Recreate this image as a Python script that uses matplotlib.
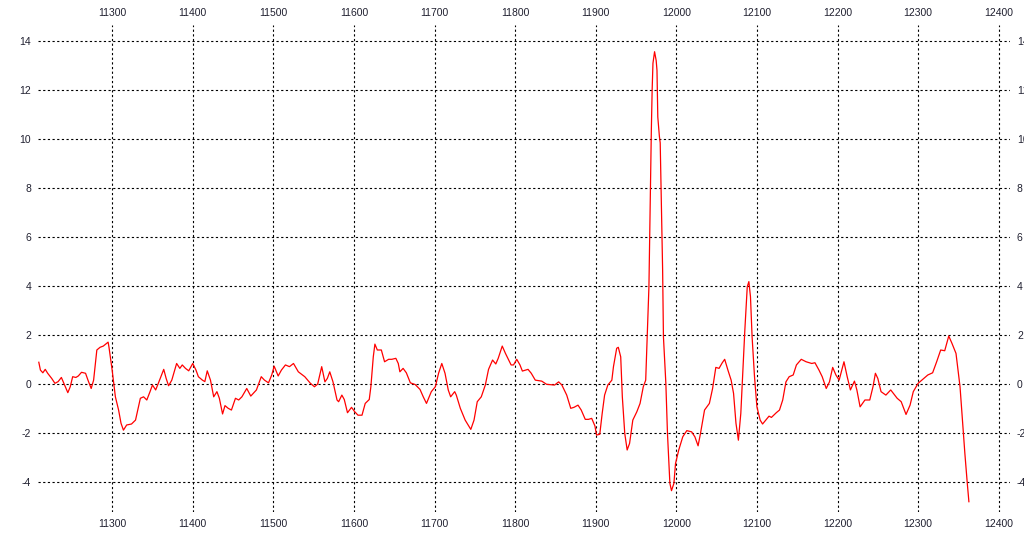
import matplotlib
matplotlib.use("Agg")
import matplotlib.pyplot as plt

# sample positions and values
xs = [11209, 11211, 11214, 11217, 11220, 11225, 11229, 11233, 11237, 11241,
      11245, 11248, 11251, 11255, 11258, 11262, 11267, 11270, 11274, 11277,
      11281, 11285, 11289, 11295, 11296, 11300, 11304, 11308, 11311, 11314,
      11318, 11324, 11329, 11335, 11339, 11343, 11347, 11350, 11354, 11358,
      11364, 11367, 11370, 11374, 11380, 11384, 11387, 11391, 11395, 11400,
      11404, 11407, 11412, 11415, 11418, 11422, 11426, 11430, 11433, 11437,
      11440, 11444, 11448, 11453, 11457, 11461, 11467, 11472, 11479, 11485,
      11489, 11494, 11498, 11501, 11506, 11510, 11515, 11520, 11525, 11531,
      11539, 11546, 11551, 11555, 11560, 11564, 11567, 11570, 11574, 11579,
      11581, 11585, 11588, 11592, 11597, 11601, 11605, 11610, 11614, 11619,
      11621, 11624, 11626, 11629, 11634, 11638, 11643, 11647, 11652, 11655,
      11657, 11661, 11665, 11670, 11676, 11682, 11686, 11690, 11696, 11701,
      11705, 11709, 11713, 11717, 11720, 11725, 11727, 11732, 11738, 11745,
      11749, 11753, 11758, 11763, 11767, 11772, 11776, 11779, 11784, 11788,
      11795, 11798, 11802, 11806, 11809, 11816, 11820, 11825, 11833, 11839,
      11849, 11854, 11858, 11864, 11869, 11873, 11878, 11882, 11887, 11891,
      11895, 11899, 11901, 11905, 11908, 11911, 11915, 11920, 11922, 11926,
      11928, 11931, 11933, 11936, 11939, 11942, 11946, 11951, 11955, 11959,
      11962, 11964, 11966, 11969, 11970, 11971, 11973, 11975, 11976, 11977,
      11979, 11980, 11983, 11984, 11987, 11989, 11992, 11994, 11997, 11999,
      12003, 12008, 12013, 12019, 12023, 12027, 12030, 12035, 12041, 12045,
      12049, 12053, 12057, 12060, 12064, 12068, 12071, 12074, 12077, 12080,
      12083, 12085, 12088, 12090, 12092, 12094, 12097, 12100, 12104, 12107,
      12111, 12115, 12118, 12124, 12128, 12132, 12136, 12140, 12145, 12149,
      12155, 12161, 12168, 12172, 12177, 12181, 12186, 12190, 12194, 12198,
      12202, 12208, 12212, 12216, 12221, 12224, 12228, 12234, 12240, 12244,
      12247, 12250, 12254, 12260, 12266, 12271, 12274, 12279, 12285, 12290,
      12294, 12300, 12307, 12312, 12318, 12323, 12328, 12333, 12338, 12342,
      12347, 12349, 12352, 12355, 12358, 12361, 12363]
ys = [0.89, 0.57, 0.46, 0.60, 0.44, 0.23, 0.03, 0.10, 0.27, -0.04,
      -0.35, -0.11, 0.30, 0.27, 0.33, 0.48, 0.44, 0.16, -0.18, 0.16,
      1.39, 1.50, 1.55, 1.71, 1.52, 0.57, -0.52, -1.06, -1.60, -1.88,
      -1.67, -1.63, -1.47, -0.58, -0.52, -0.65, -0.31, -0.04, -0.24, 0.09,
      0.60, 0.23, -0.07, 0.16, 0.84, 0.64, 0.78, 0.64, 0.54, 0.84,
      0.57, 0.30, 0.16, 0.10, 0.54, 0.16, -0.52, -0.31, -0.58, -1.22,
      -0.88, -0.99, -1.06, -0.58, -0.65, -0.52, -0.18, -0.49, -0.24, 0.30,
      0.16, 0.05, 0.37, 0.73, 0.33, 0.57, 0.78, 0.71, 0.84, 0.50,
      0.30, 0.03, -0.11, 0.00, 0.71, 0.09, 0.23, 0.50, 0.09, -0.65,
      -0.72, -0.45, -0.63, -1.17, -0.95, -1.13, -1.27, -1.27, -0.79, -0.63,
      -0.11, 1.11, 1.63, 1.39, 1.39, 0.91, 1.01, 1.01, 1.05, 0.84,
      0.50, 0.64, 0.46, 0.05, -0.02, -0.22, -0.52, -0.79, -0.31, -0.11,
      0.44, 0.84, 0.44, -0.24, -0.52, -0.31, -0.45, -0.99, -1.47, -1.85,
      -1.47, -0.72, -0.52, -0.04, 0.60, 0.98, 0.82, 1.05, 1.55, 1.25,
      0.78, 0.78, 1.01, 0.78, 0.53, 0.60, 0.44, 0.16, 0.12, -0.01,
      -0.04, 0.09, -0.04, -0.45, -0.99, -0.95, -0.86, -1.06, -1.44, -1.44,
      -1.40, -1.71, -2.08, -2.05, -1.20, -0.45, -0.04, 0.16, 0.71, 1.46,
      1.50, 1.11, -0.52, -2.01, -2.69, -2.42, -1.47, -1.13, -0.79, -0.11,
      0.16, 2.07, 3.97, 10.37, 12.00, 13.09, 13.56, 13.20, 12.80, 10.90,
      10.10, 9.84, 4.65, 1.93, 0.03, -2.01, -4.05, -4.35, -4.05, -3.24,
      -2.69, -2.15, -1.90, -1.95, -2.15, -2.52, -2.01, -1.06, -0.79, -0.18,
      0.68, 0.64, 0.87, 1.01, 0.57, 0.16, -0.38, -1.60, -2.29, -1.20,
      0.84, 2.20, 3.97, 4.18, 3.56, 1.93, 0.30, -0.93, -1.47, -1.63,
      -1.47, -1.31, -1.36, -1.17, -1.06, -0.65, 0.09, 0.30, 0.37, 0.78,
      1.01, 0.91, 0.84, 0.87, 0.57, 0.30, -0.18, 0.09, 0.68, 0.37,
      0.16, 0.91, 0.30, -0.24, 0.12, -0.24, -0.93, -0.65, -0.65, -0.11,
      0.44, 0.23, -0.31, -0.45, -0.24, -0.45, -0.58, -0.72, -1.24, -0.86,
      -0.31, 0.03, 0.23, 0.37, 0.46, 0.91, 1.39, 1.36, 1.96, 1.66,
      1.25, 0.71, -0.11, -1.47, -2.83, -4.05, -4.80]

x_ticks = [11300, 11400, 11500, 11600, 11700, 11800, 11900, 12000, 12100, 12200, 12300, 12400]
y_ticks = [-4, -2, 0, 2, 4, 6, 8, 10, 12, 14]

plt.rcParams["font.family"] = ["Liberation Sans", "DejaVu Sans"]
plt.rcParams["axes.unicode_minus"] = False

fig = plt.figure(figsize=(10.24, 5.34), dpi=100)
ax = fig.add_axes([38 / 1024, 1 - 512 / 534, (1010 - 38) / 1024, (512 - 25) / 534])

ax.plot(xs, ys, color="#ff0000", linewidth=0.9)

ax.set_xlim(11208, 12414)
ax.set_ylim(-5.22, 14.65)
ax.set_xticks(x_ticks)
ax.set_yticks(y_ticks)
ax.grid(True, color="black", linestyle=(0, (2, 2.2)), linewidth=0.8)

for side in ["left", "right", "top", "bottom"]:
    ax.spines[side].set_visible(False)

ax.tick_params(axis="both", length=0, labelsize=7.5, labelcolor="#202030",
               top=True, right=True, labeltop=True, labelright=True)
ax.tick_params(axis="x", pad=5)
ax.tick_params(axis="y", pad=5)

fig.savefig("out.png", dpi=100)
